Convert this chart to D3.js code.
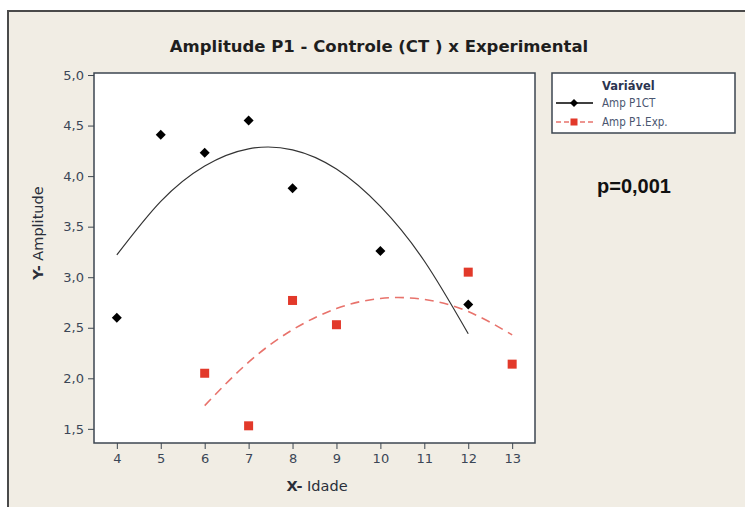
<!DOCTYPE html>
<html>
<head>
<meta charset="utf-8">
<script src="https://cdn.jsdelivr.net/npm/d3@7"></script>
<style>
  body { margin: 0; background: #fff; }
  svg { display: block; }
  .tick text { font-family: "DejaVu Sans", sans-serif; font-size: 13px; fill: #3b4656; }
</style>
</head>
<body>
<div class="chart"></div>
<script>
// observed values
var ages = [4, 5, 6, 7, 8, 10, 12];
var ampCT = [2.60, 4.41, 4.23, 4.55, 3.88, 3.26, 2.73];
var agesExp = [6, 7, 8, 9, 12, 13];
var ampExp = [2.05, 1.53, 2.77, 2.53, 3.05, 2.14];

// fitted curves
var fitCTx = [4, 5, 6, 7, 8, 9, 10, 11, 12];
var fitCTy = [3.22, 3.75, 4.10, 4.27, 4.26, 4.07, 3.70, 3.16, 2.44];
var fitExpx = [6, 7, 8, 9, 10, 11, 12, 13];
var fitExpy = [1.73, 2.16, 2.48, 2.69, 2.79, 2.78, 2.66, 2.43];

var xTicks = [4, 5, 6, 7, 8, 9, 10, 11, 12, 13];
var yTicks = [1.5, 2.0, 2.5, 3.0, 3.5, 4.0, 4.5, 5.0];

var width = 745, height = 507;
var svg = d3.select(".chart").append("svg")
    .attr("width", width)
    .attr("height", height);

// outer frame
svg.append("rect")
    .attr("x", 8).attr("y", 11)
    .attr("width", 760).attr("height", 520)
    .attr("fill", "#f1ede4")
    .attr("stroke", "#4a4a4a")
    .attr("stroke-width", 2);

var x = d3.scaleLinear().domain([3.48, 13.52]).range([94, 535]);
var y = d3.scaleLinear().domain([1.36, 5.02]).range([443, 73]);

svg.append("rect")
    .attr("x", 94).attr("y", 73)
    .attr("width", 535 - 94).attr("height", 443 - 73)
    .attr("fill", "#fff");

var fmt = function(d) { return d3.format(".1f")(d).replace(".", ","); };

var xAxis = svg.append("g")
    .attr("transform", "translate(0,443)")
    .call(d3.axisBottom(x).tickValues(xTicks).tickSize(6).tickPadding(5).tickFormat(d3.format("d")));
var yAxis = svg.append("g")
    .attr("transform", "translate(94,0)")
    .call(d3.axisLeft(y).tickValues(yTicks).tickSize(6).tickPadding(4).tickFormat(fmt));
[xAxis, yAxis].forEach(function(a) {
  a.select(".domain").remove();
  a.selectAll(".tick line").attr("stroke", "#3c4650");
});

svg.append("rect")
    .attr("x", 94).attr("y", 73)
    .attr("width", 535 - 94).attr("height", 443 - 73)
    .attr("fill", "none")
    .attr("stroke", "#3c4650")
    .attr("stroke-width", 1.5);

// fitted lines
var line = d3.line()
    .x(function(d) { return x(d[0]); })
    .y(function(d) { return y(d[1]); })
    .curve(d3.curveNatural);

svg.append("path")
    .datum(d3.zip(fitCTx, fitCTy))
    .attr("d", line)
    .attr("fill", "none")
    .attr("stroke", "#333")
    .attr("stroke-width", 1.2);

svg.append("path")
    .datum(d3.zip(fitExpx, fitExpy))
    .attr("d", line)
    .attr("fill", "none")
    .attr("stroke", "#e8736c")
    .attr("stroke-width", 1.6)
    .attr("stroke-dasharray", "9,6");

// points
svg.selectAll(".ct")
    .data(d3.zip(ages, ampCT))
    .enter().append("path")
    .attr("class", "ct")
    .attr("transform", function(d) { return "translate(" + x(d[0]) + "," + y(d[1]) + ")"; })
    .attr("d", "M0,-5L5,0L0,5L-5,0Z")
    .attr("fill", "#000");

svg.selectAll(".exp")
    .data(d3.zip(agesExp, ampExp))
    .enter().append("rect")
    .attr("class", "exp")
    .attr("x", function(d) { return x(d[0]) - 4.5; })
    .attr("y", function(d) { return y(d[1]) - 4.5; })
    .attr("width", 9).attr("height", 9)
    .attr("fill", "#e2392a");

// title and labels
svg.append("text")
    .attr("x", 379).attr("y", 52)
    .attr("text-anchor", "middle")
    .style("font-family", "DejaVu Sans, sans-serif")
    .style("font-size", "16.5px")
    .style("font-weight", "bold")
    .attr("fill", "#1e1e1e")
    .text("Amplitude P1 - Controle (CT ) x Experimental");

var xl = svg.append("text")
    .attr("x", 317).attr("y", 491)
    .attr("text-anchor", "middle")
    .style("font-family", "DejaVu Sans, sans-serif")
    .style("font-size", "14.5px")
    .attr("fill", "#2a2f3a");
xl.append("tspan").style("font-weight", "bold").text("X-");
xl.append("tspan").text(" Idade");

var yl = svg.append("text")
    .attr("transform", "translate(43,233) rotate(-90)")
    .attr("text-anchor", "middle")
    .style("font-family", "DejaVu Sans, sans-serif")
    .style("font-size", "14.5px")
    .attr("fill", "#2a2f3a");
yl.append("tspan").style("font-weight", "bold").text("Y-");
yl.append("tspan").text(" Amplitude");

svg.append("text")
    .attr("x", 597).attr("y", 193)
    .style("font-family", "Liberation Sans, Arial, sans-serif")
    .style("font-size", "20px")
    .style("font-weight", "bold")
    .attr("fill", "#111")
    .text("p=0,001");

// legend
var lg = svg.append("g");
lg.append("rect")
    .attr("x", 552).attr("y", 73)
    .attr("width", 183).attr("height", 60)
    .attr("fill", "#fff")
    .attr("stroke", "#3c4650")
    .attr("stroke-width", 1.5);
lg.append("text")
    .attr("x", 602).attr("y", 90)
    .style("font-family", "DejaVu Sans, sans-serif")
    .style("font-size", "11.5px")
    .style("font-weight", "bold")
    .attr("fill", "#2c3550")
    .text("Variável");

var legendItems = [
  { label: "Amp P1CT", color: "#000", dash: null, shape: "diamond" },
  { label: "Amp P1.Exp.", color: "#e8736c", dash: "5,3", shape: "square" }
];
legendItems.forEach(function(d, i) {
  var ly = 103 + i * 19;
  lg.append("line")
    .attr("x1", 556).attr("x2", 593)
    .attr("y1", ly).attr("y2", ly)
    .attr("stroke", d.color)
    .attr("stroke-width", 1.3)
    .attr("stroke-dasharray", d.dash);
  if (d.shape === "diamond") {
    lg.append("path")
      .attr("transform", "translate(574," + ly + ")")
      .attr("d", "M0,-4L4,0L0,4L-4,0Z")
      .attr("fill", "#000");
  } else {
    lg.append("rect")
      .attr("x", 570.5).attr("y", ly - 3.5)
      .attr("width", 7).attr("height", 7)
      .attr("fill", "#e2392a");
  }
  lg.append("text")
    .attr("x", 602).attr("y", ly + 4)
    .style("font-family", "DejaVu Sans Condensed, DejaVu Sans, sans-serif")
    .style("font-size", "11.5px")
    .attr("fill", "#4a5670")
    .text(d.label);
});
</script>
</body>
</html>
